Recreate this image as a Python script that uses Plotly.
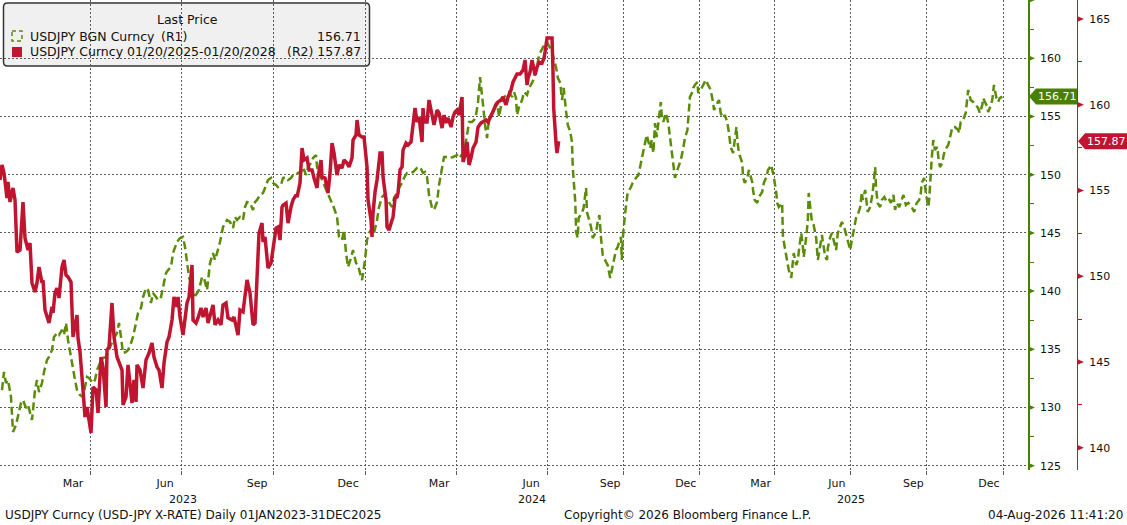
"""
USDJPY: the 2025-2028 path overlaid on the 2023-2025 path, Bloomberg GP style.
"""

import numpy as np
import pandas as pd
import plotly.graph_objects as go

# USDJPY BGN Curncy (R1): day offset from GREEN_START, close
GREEN_START = "2023-01-01"
green_day = [
    2, 4, 6, 8, 11, 13, 16, 18, 21, 23,
    26, 28, 32, 33, 35, 37, 39, 42, 44, 47,
    49, 52, 54, 57, 59, 62, 64, 66, 68, 71,
    73, 75, 77, 80, 83, 85, 87, 89, 93, 95,
    97, 100, 103, 106, 110, 113, 117, 119, 121, 123,
    126, 128, 131, 133, 136, 138, 141, 143, 146, 148,
    151, 153, 156, 158, 161, 163, 166, 168, 171, 173,
    175, 177, 180, 183, 185, 187, 189, 192, 194, 197,
    199, 202, 204, 207, 210, 213, 215, 217, 220, 223,
    225, 227, 230, 233, 235, 237, 240, 243, 245, 247,
    250, 253, 255, 257, 260, 263, 265, 268, 271, 273,
    276, 278, 281, 283, 286, 288, 291, 293, 296, 298,
    301, 303, 306, 308, 311, 313, 316, 317, 319, 322,
    324, 327, 329, 332, 334, 337, 339, 342, 344, 346,
    348, 351, 353, 356, 358, 360, 362, 365, 367, 369,
    372, 374, 377, 379, 382, 384, 387, 389, 392, 394,
    397, 399, 402, 404, 407, 410, 413, 417, 420, 423,
    425, 427, 429, 432, 434, 437, 439, 442, 444, 447,
    449, 453, 457, 459, 462, 464, 467, 469, 472, 474,
    476, 478, 480, 482, 483, 485, 487, 488, 490, 493,
    495, 497, 499, 502, 504, 507, 509, 512, 514, 516,
    517, 519, 522, 524, 527, 529, 532, 534, 537, 539,
    542, 544, 547, 549, 553, 555, 558, 560, 563, 565,
    567, 570, 572, 575, 577, 578, 581, 582, 584, 585,
    589, 591, 594, 595, 598, 600, 602, 606, 608, 610,
    612, 614, 618, 620, 623, 625, 626, 630, 632, 636,
    637, 638, 641, 643, 644, 648, 650, 654, 657, 660,
    663, 665, 667, 671, 673, 675, 677, 679, 681, 684,
    685, 687, 690, 693, 695, 697, 699, 701, 703, 705,
    708, 711, 713, 716, 718, 719, 722, 723, 725, 728,
    729, 732, 735, 738, 741, 744, 747, 748, 752, 754,
    756, 759, 761, 764, 766, 768, 771, 772, 775, 776,
    778, 782, 783, 785, 788, 790, 794, 795, 797, 800,
    802, 806, 808, 811, 813, 817, 819, 820, 823, 824,
    826, 830, 831, 834, 836, 838, 841, 843, 844, 847,
    849, 850, 853, 855, 856, 859, 861, 862, 864, 866,
    868, 871, 873, 876, 878, 879, 882, 884, 885, 888,
    890, 892, 895, 897, 900, 902, 905, 908, 909, 912,
    914, 917, 919, 921, 924, 926, 927, 930, 932, 933,
    936, 938, 939, 942, 943, 945, 948, 950, 953, 956,
    959, 961, 964, 966, 968, 971, 973, 976, 979, 982,
    984, 986, 989, 992, 995, 997, 998, 1001, 1003, 1006,
    1007, 1008, 1010, 1012, 1014, 1017, 1018, 1020, 1023, 1024,
    1026, 1030, 1032, 1035, 1038, 1042, 1043, 1045, 1048, 1051,
    1054, 1055, 1057, 1060, 1063, 1066, 1068, 1071, 1072, 1074,
    1077, 1078, 1080, 1083, 1085, 1088, 1090, 1092, 1095,
]
green_val = [
    131.50, 133.05, 132.10, 132.36, 130.90, 127.90, 128.50, 129.18, 130.39, 130.64,
    129.96, 130.21, 128.93, 129.78, 131.50, 132.36, 131.33, 132.10, 133.05, 134.08,
    134.34, 134.94, 136.06, 136.40, 136.23, 136.66, 136.23, 137.26, 135.80, 134.34,
    133.22, 132.36, 131.50, 131.07, 130.90, 131.76, 132.62, 132.53, 132.10, 132.36,
    133.22, 133.82, 134.25, 134.34, 135.20, 135.80, 136.40, 137.26, 136.06, 134.68,
    134.77, 134.94, 135.54, 136.06, 137.26, 138.12, 138.55, 139.49, 140.26, 140.09,
    138.98, 139.83, 139.49, 139.23, 139.49, 140.26, 141.55, 141.81, 142.07, 143.27,
    143.79, 144.22, 144.56, 144.65, 143.79, 142.41, 141.21, 140.35, 139.40, 139.83,
    140.09, 141.21, 141.13, 140.09, 142.41, 143.27, 142.67, 143.27, 144.22, 145.51,
    145.85, 146.11, 145.94, 145.42, 146.37, 146.11, 146.37, 146.11, 147.22, 147.65,
    147.57, 146.97, 147.65, 147.83, 148.26, 148.43, 148.86, 149.55, 149.72, 149.29,
    149.12, 148.94, 149.12, 149.72, 149.80, 149.55, 149.72, 149.97, 149.97, 150.15,
    150.23, 150.66, 149.97, 150.66, 151.01, 151.43, 151.69, 150.66, 150.15, 149.55,
    149.12, 148.51, 148.08, 147.57, 147.14, 146.37, 144.65, 144.39, 145.25, 143.27,
    142.07, 142.85, 143.53, 142.41, 142.24, 141.55, 140.95, 142.67, 144.39, 144.99,
    145.42, 144.99, 146.11, 147.22, 148.08, 148.26, 147.83, 147.57, 147.22, 148.00,
    148.43, 148.86, 149.29, 149.72, 150.15, 150.15, 150.23, 150.58, 150.66, 150.15,
    150.23, 149.80, 148.26, 147.14, 146.97, 147.65, 149.12, 150.58, 151.52, 151.52,
    151.43, 151.52, 151.69, 151.43, 151.69, 151.95, 153.41, 154.53, 154.53, 154.70,
    155.13, 156.25, 158.39, 157.10, 155.99, 154.27, 153.15, 154.10, 154.96, 155.39,
    155.99, 156.25, 154.96, 156.42, 156.68, 156.85, 157.10, 156.68, 157.10, 156.58,
    155.13, 155.82, 156.42, 157.10, 156.85, 157.45, 157.88, 158.31, 159.25, 160.28,
    160.88, 161.14, 161.40, 161.14, 160.54, 160.03, 159.17, 158.31, 157.88, 156.42,
    157.45, 155.39, 154.27, 153.67, 152.81, 150.58, 147.65, 145.08, 144.56, 146.28,
    146.71, 147.14, 148.86, 146.80, 145.94, 145.51, 144.56, 145.08, 145.94, 146.54,
    144.56, 143.10, 142.50, 142.24, 141.13, 141.81, 142.41, 143.53, 143.79, 144.65,
    142.67, 144.39, 146.71, 147.83, 148.43, 148.94, 149.29, 149.72, 149.97, 151.01,
    152.12, 152.98, 153.41, 152.29, 152.98, 151.86, 154.44, 153.24, 154.70, 156.25,
    155.13, 154.53, 155.30, 154.44, 153.24, 152.12, 151.01, 149.72, 150.23, 150.66,
    151.26, 152.29, 153.15, 153.84, 155.30, 156.68, 157.10, 157.45, 157.71, 157.96,
    157.02, 157.28, 157.71, 158.14, 157.71, 157.28, 156.16, 155.56, 156.16, 156.42,
    155.30, 154.87, 155.13, 154.53, 153.58, 152.38, 151.86, 152.55, 154.10, 152.98,
    151.86, 151.01, 149.80, 149.29, 149.72, 150.40, 149.37, 148.69, 147.83, 147.57,
    148.08, 148.51, 149.29, 149.80, 150.40, 150.83, 150.15, 149.80, 148.43, 147.57,
    147.22, 147.57, 144.65, 143.36, 142.41, 141.81, 141.13, 142.67, 143.27, 142.24,
    142.67, 143.36, 144.99, 143.79, 142.93, 144.65, 146.11, 148.43, 146.97, 145.85,
    145.68, 144.56, 142.67, 144.13, 144.82, 144.22, 142.93, 142.67, 143.71, 144.65,
    144.99, 144.39, 143.53, 144.99, 145.51, 145.94, 145.42, 144.65, 144.39, 143.53,
    144.39, 145.42, 146.28, 146.54, 147.22, 148.51, 147.83, 148.69, 147.57, 146.80,
    147.22, 148.08, 148.43, 150.66, 148.94, 147.57, 147.22, 147.83, 148.08, 147.65,
    147.83, 147.57, 148.26, 146.97, 147.57, 147.22, 147.65, 148.26, 147.40, 147.57,
    147.40, 147.22, 146.80, 147.57, 147.83, 148.43, 149.29, 149.72, 148.43, 147.22,
    147.83, 149.29, 151.26, 152.98, 152.12, 152.38, 151.52, 150.66, 151.01, 151.52,
    152.12, 152.55, 153.24, 154.10, 154.10, 153.84, 153.58, 154.53, 154.70, 155.30,
    157.28, 157.02, 156.42, 156.25, 155.99, 155.73, 155.30, 155.99, 156.58, 156.25,
    155.82, 155.39, 155.73, 156.42, 157.71, 156.58, 156.25, 156.58, 156.71,
]

# USDJPY Curncy 01/20/2025-01/20/2028 (R2): day offset from RED_START, close
RED_START = "2025-01-20"
red_day = [
    0, 2, 4, 7, 8, 10, 13, 15, 17, 20,
    23, 25, 28, 30, 32, 35, 37, 39, 42, 43,
    45, 49, 52, 53, 55, 57, 59, 62, 64, 66,
    68, 71, 73, 75, 77, 78, 80, 83, 85, 87,
    91, 93, 96, 98, 101, 103, 106, 107, 109, 112,
    114, 117, 119, 122, 123, 126, 128, 130, 132, 134,
    136, 137, 140, 143, 146, 149, 152, 154, 157, 159,
    162, 164, 167, 169, 172, 174, 177, 178, 180, 183,
    185, 187, 189, 192, 193, 196, 198, 201, 203, 206,
    208, 211, 213, 215, 218, 221, 223, 226, 228, 232,
    234, 238, 240, 243, 245, 247, 250, 253, 255, 257,
    259, 262, 263, 265, 268, 271, 273, 276, 278, 280,
    282, 283, 286, 288, 291, 293, 296, 297, 300, 302,
    304, 307, 309, 312, 314, 317, 318, 321, 322, 325,
    328, 330, 332, 334, 337, 339, 342, 344, 347, 349,
    352, 353, 356, 357, 359, 362, 364, 367, 368, 371,
    372, 373, 375, 377, 380, 382, 383, 386, 387, 389,
    392, 393, 395, 397, 398, 400, 402, 403, 406, 408,
    411, 413, 415, 417, 419, 422, 423, 424, 427, 429,
    432, 434, 437, 439, 442, 444, 446, 448, 451, 453,
    455, 457, 459, 462, 463, 465, 467, 469, 471, 473,
    476, 478, 481, 483, 486, 488, 491, 493, 496, 498,
    501, 503, 506, 508, 511, 513, 515, 517, 520, 523,
    525, 527, 528, 530, 532, 533, 535, 537, 539, 542,
    544, 545, 547, 549, 553, 554, 555, 558, 559, 561,
]
red_val = [
    155.61, 156.49, 156.02, 154.56, 155.50, 154.33, 155.15, 154.45, 151.41, 151.53,
    154.33, 152.23, 151.53, 151.94, 149.61, 149.08, 149.61, 150.54, 149.61, 149.78,
    148.03, 147.27, 148.21, 147.86, 149.02, 149.31, 148.73, 150.54, 150.95, 150.07,
    149.96, 149.66, 146.46, 147.16, 147.74, 146.40, 145.58, 143.37, 141.79, 142.38,
    140.86, 143.54, 143.37, 142.03, 145.29, 144.71, 142.38, 145.70, 145.87, 148.44,
    146.46, 145.29, 144.94, 144.53, 142.49, 142.96, 144.83, 143.78, 142.61, 143.95,
    142.67, 144.83, 144.53, 143.48, 145.12, 145.52, 146.11, 145.29, 144.71, 144.53,
    143.48, 144.94, 146.17, 146.46, 147.45, 148.79, 148.21, 148.79, 147.62, 146.57,
    147.62, 148.44, 148.79, 150.66, 147.45, 147.27, 147.57, 148.15, 147.62, 148.15,
    147.27, 147.86, 148.32, 147.16, 147.45, 147.16, 148.32, 148.44, 147.57, 147.45,
    147.62, 146.57, 148.03, 147.92, 148.79, 149.78, 149.02, 147.16, 147.27, 149.96,
    152.52, 153.10, 152.00, 152.29, 150.48, 150.77, 151.71, 152.81, 152.87, 152.11,
    154.04, 154.15, 154.27, 153.10, 154.04, 154.45, 154.74, 154.62, 155.44, 157.48,
    156.78, 156.90, 156.20, 156.20, 155.73, 155.15, 155.79, 156.78, 155.79, 155.73,
    154.85, 156.02, 157.77, 157.19, 155.90, 156.49, 156.31, 156.78, 156.60, 156.37,
    156.90, 157.94, 158.24, 159.11, 158.24, 158.12, 158.12, 156.37, 154.45, 153.28,
    152.29, 153.69, 154.91, 155.61, 157.19, 157.19, 155.79, 154.45, 152.87, 152.70,
    153.28, 153.45, 154.56, 154.62, 154.85, 156.20, 156.37, 157.36, 157.77, 157.65,
    157.83, 158.99, 159.81, 158.99, 159.29, 157.83, 159.81, 158.99, 158.99, 160.28,
    159.52, 158.82, 159.69, 159.52, 158.64, 159.40, 158.94, 159.23, 158.70, 159.29,
    159.58, 159.69, 159.40, 160.45, 156.66, 157.07, 157.83, 156.49, 156.90, 157.48,
    157.83, 158.70, 158.94, 158.99, 159.11, 158.99, 159.40, 159.58, 159.99, 160.16,
    160.28, 160.45, 159.99, 160.45, 160.86, 161.33, 161.62, 161.79, 161.79, 162.03,
    162.61, 161.15, 161.56, 161.91, 162.61, 162.20, 161.73, 162.20, 162.49, 162.43,
    162.73, 163.08, 163.89, 163.89, 163.89, 162.32, 159.81, 157.65, 157.19, 157.87,
]
assert len(green_day) == len(green_val) and len(red_day) == len(red_val)

month_labels = ["Mar", "Jun", "Sep", "Dec"]
month_nums = [3, 6, 9, 12]
years = [2023, 2024, 2025]
r1_ticks = [125, 130, 135, 140, 145, 150, 155, 160, 165]
r2_ticks = [140, 145, 150, 155, 160, 165]

GREEN = "#5a8c08"
GREEN_DARK = "#4a8000"
RED = "#c01530"
GRID = "#5a5a5a"
FONT = "DejaVu Sans"

W, H, PLOT_H = 1127, 525, 470
X_END = 1028 / W      # R1 axis sits at the right edge of the plot
X_R2 = 1077 / W       # R2 axis is free-standing to the right

# Bloomberg spaces observations, not calendar days: while the shifted
# overlay adds its own dates (up to 1 Jul 2024) the axis is stretched.
AXIS_START = pd.Timestamp("2023-01-01")
STRETCH_END = pd.Timestamp("2024-07-01")
DENSE = 0.8306


def obs_pos(dates):
    d = np.asarray((pd.DatetimeIndex(dates) - AXIS_START).days, dtype=float)
    k = (STRETCH_END - AXIS_START).days
    return np.where(d <= k, d, k + (d - k) * DENSE)


green_dates = pd.Timestamp(GREEN_START) + pd.to_timedelta(green_day, unit="D")
red_dates = pd.Timestamp(RED_START) + pd.to_timedelta(red_day, unit="D")
red_shift = pd.Timestamp(RED_START) - AXIS_START   # overlay starts at chart start

green_x = obs_pos(green_dates)
red_x = obs_pos(red_dates - red_shift)

label_dates = [pd.Timestamp(y, m, 15) for y in years for m in month_nums]
grid_dates = pd.date_range("2023-04-01", "2026-01-01", freq="QS")
x_range = [0, float(obs_pos([pd.Timestamp("2026-01-31")])[0])]

fig = go.Figure()

fig.add_trace(
    go.Scatter(
        x=green_x, y=green_val, mode="lines", yaxis="y",
        line=dict(color=GREEN, width=2.5, dash="8px,4px"),
        name="USDJPY BGN Curncy (R1)",
    )
)
fig.add_trace(
    go.Scatter(
        x=red_x, y=red_val, mode="lines", yaxis="y2",
        line=dict(color=RED, width=3.5),
        name="USDJPY Curncy 01/20/2025-01/20/2028 (R2)",
    )
)

fig.update_layout(
    width=W, height=H, autosize=False,
    margin=dict(l=0, r=0, t=0, b=H - PLOT_H),
    paper_bgcolor="white", plot_bgcolor="white",
    showlegend=False,
    font=dict(family=FONT, size=11, color="#111"),
    xaxis=dict(
        domain=[0, X_END], range=x_range,
        tickmode="array",
        tickvals=obs_pos(label_dates),
        ticktext=[m for _ in years for m in month_labels],
        ticks="", showgrid=False, zeroline=False, showline=False,
        ticklabelstandoff=5,
        minor=dict(
            tickmode="array", tickvals=obs_pos(grid_dates),
            showgrid=True, gridcolor=GRID, griddash="2px,2px", gridwidth=1,
            ticks="outside", ticklen=4, tickcolor=GRID,
        ),
    ),
    yaxis=dict(
        side="right", anchor="x", range=[124.63, 165.01],
        tickmode="array", tickvals=r1_ticks[:-1],
        showgrid=True, gridcolor=GRID, griddash="2px,2px", gridwidth=1,
        zeroline=False, showline=True, linecolor=GREEN_DARK, linewidth=1.5,
        ticks="", ticklabelstandoff=8,
        minor=dict(
            tickmode="array", tickvals=[v + 2.5 for v in r1_ticks[:-1]],
            ticks="outside", ticklen=4, tickcolor=GREEN_DARK, showgrid=False,
        ),
    ),
    yaxis2=dict(
        overlaying="y", side="right", anchor="free", position=X_R2,
        range=[138.70, 166.11],
        tickmode="array", tickvals=r2_ticks,
        showgrid=False, zeroline=False,
        showline=True, linecolor=RED, linewidth=1.2,
        ticks="", ticklabelstandoff=9,
        minor=dict(
            tickmode="array", tickvals=[v + 2.5 for v in r2_ticks[:-1]],
            ticks="outside", ticklen=4, tickcolor=RED, showgrid=False,
        ),
    ),
)

shapes = []
# triangle tick marks on both value axes
for v in r1_ticks:
    shapes.append(dict(
        type="path", xref="paper", yref="y", xsizemode="pixel", ysizemode="pixel",
        xanchor=X_END, yanchor=v, path="M0,-3 L7,0 L0,3 Z",
        fillcolor=GREEN_DARK, line=dict(width=0),
    ))
for v in r2_ticks:
    shapes.append(dict(
        type="path", xref="paper", yref="y2", xsizemode="pixel", ysizemode="pixel",
        xanchor=X_R2, yanchor=v, path="M0,-3 L7,0 L0,3 Z",
        fillcolor=RED, line=dict(width=0),
    ))

# last price tags
g_last, r_last = green_val[-1], red_val[-1]
shapes.append(dict(
    type="path", xref="paper", yref="y", xsizemode="pixel", ysizemode="pixel",
    xanchor=X_END, yanchor=g_last, path="M1,0 L8,8 L49,8 L49,-8 L8,-8 Z",
    fillcolor=GREEN_DARK, line=dict(width=0),
))
shapes.append(dict(
    type="path", xref="paper", yref="y2", xsizemode="pixel", ysizemode="pixel",
    xanchor=X_R2, yanchor=r_last, path="M1,0 L8,8 L52,8 L52,-8 L8,-8 Z",
    fillcolor=RED, line=dict(width=0),
))

# legend box (pixels from the top-left corner of the plot)
shapes.append(dict(
    type="path", xref="paper", yref="paper", xsizemode="pixel", ysizemode="pixel",
    xanchor=0, yanchor=1, layer="below",
    path=("M7.5,-3 L365.5,-3 Q369.5,-3 369.5,-7 L369.5,-62 Q369.5,-66 365.5,-66 "
          "L7.5,-66 Q3.5,-66 3.5,-62 L3.5,-7 Q3.5,-3 7.5,-3 Z"),
    fillcolor="#f0f0f0", line=dict(color="#333", width=1.5),
))
shapes.append(dict(
    type="rect", xref="paper", yref="paper", xsizemode="pixel", ysizemode="pixel",
    xanchor=0, yanchor=1, x0=12, x1=22, y0=-31, y1=-41,
    line=dict(color=GREEN, width=1.5, dash="4px,3px"), fillcolor="rgba(0,0,0,0)",
))
shapes.append(dict(
    type="rect", xref="paper", yref="paper", xsizemode="pixel", ysizemode="pixel",
    xanchor=0, yanchor=1, x0=12, x1=22, y0=-47, y1=-57,
    line=dict(width=0), fillcolor=RED,
))
fig.update_layout(shapes=shapes)


def px(x):
    return x / W


def py(y):
    return 1 - y / PLOT_H


LEG = dict(size=12.5, color="#111", family=FONT)
ann = [
    dict(x=px(187), y=py(20), text="Last Price", xanchor="center", font=LEG),
    dict(x=px(28), y=py(36), text="USDJPY BGN Curncy", xanchor="left", font=LEG),
    dict(x=px(159), y=py(36), text="(R1)", xanchor="left", font=LEG),
    dict(x=px(363), y=py(36), text=f"{g_last:.2f}", xanchor="right", font=LEG),
    dict(x=px(28), y=py(52), text="USDJPY Curncy 01/20/2025-01/20/2028",
         xanchor="left", font=LEG),
    dict(x=px(363), y=py(52), text=f"(R2) {r_last:.2f}", xanchor="right", font=LEG),
]
for a in ann:
    a.update(xref="paper", yref="paper", yanchor="middle", showarrow=False)

# tag labels
ann.append(dict(x=X_END, y=g_last, xref="paper", yref="y", xanchor="left",
                yanchor="middle", xshift=8, text=f"{g_last:.2f}", showarrow=False,
                font=dict(size=11, color="white", family=FONT)))
ann.append(dict(x=X_R2, y=r_last, yref="y2", xref="paper", xanchor="left",
                yanchor="middle", xshift=8, text=f"{r_last:.2f}", showarrow=False,
                font=dict(size=11, color="white", family=FONT)))

# year labels centred on each year's span
for y in years:
    a0, a1 = obs_pos([pd.Timestamp(y, 1, 1), pd.Timestamp(y + 1, 1, 1)])
    ann.append(dict(x=(a0 + a1) / 2, y=0, xref="x", yref="paper", yshift=-29,
                    yanchor="middle", text=str(y), showarrow=False,
                    font=dict(size=11, family=FONT, color="#111")))

# footer
FOOT = dict(size=12, family=FONT, color="#111")
ann += [
    dict(x=0, xshift=3, xanchor="left",
         text="USDJPY Curncy (USD-JPY X-RATE) Daily 01JAN2023-31DEC2025"),
    dict(x=px(687), xanchor="center", text="Copyright\u00a9 2026 Bloomberg Finance L.P."),
    dict(x=1, xshift=-2, xanchor="right", text="04-Aug-2026 11:41:20"),
]
for a in ann[-3:]:
    a.update(xref="paper", yref="paper", y=0, yshift=-45, yanchor="middle",
             showarrow=False, font=FOOT)

fig.update_layout(annotations=ann)

# the page's default 8px body margin would push the chart off the window
fig.write_html(
    "out.html",
    config={"displayModeBar": False},
    post_script="document.body.style.margin = '0';",
)
